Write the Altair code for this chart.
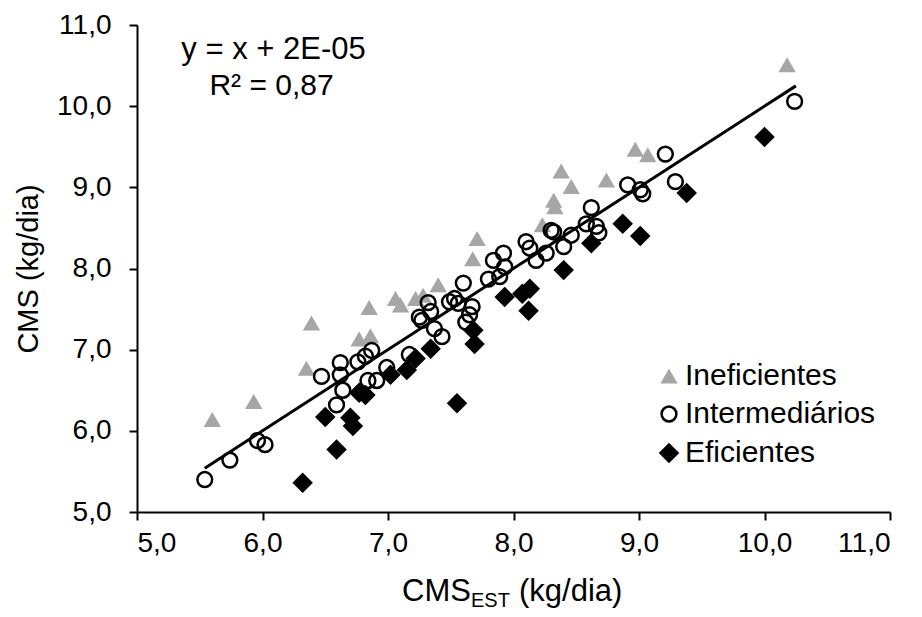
import altair as alt
import pandas as pd

# ---- data ----
inef_x = [5.60, 5.93, 6.35, 6.39, 6.77, 6.85, 6.86, 7.06, 7.10, 7.22, 7.28, 7.40,
          7.675, 7.71, 8.23, 8.32, 8.33, 8.38, 8.46, 8.74, 8.97, 9.07, 10.18]
inef_y = [6.14, 6.36, 6.77, 7.33, 7.13, 7.52, 7.17, 7.63, 7.55, 7.63, 7.67, 7.80,
          8.12, 8.37, 8.54, 8.84, 8.76, 9.20, 9.01, 9.09, 9.47, 9.40, 10.51]

inter_x = [5.54, 5.74, 5.96, 6.02, 6.47, 6.59, 6.62, 6.62, 6.64, 6.76, 6.82, 6.84,
           6.87, 6.91, 6.99, 7.17, 7.25, 7.27, 7.32, 7.34, 7.37, 7.43, 7.49, 7.53,
           7.56, 7.60, 7.62, 7.65, 7.67, 7.80, 7.84, 7.89, 7.92, 7.93, 8.10, 8.13,
           8.18, 8.26, 8.30, 8.32, 8.40, 8.46, 8.58, 8.62, 8.66, 8.68, 8.91, 9.01,
           9.03, 9.21, 9.29, 10.24]
inter_y = [5.40, 5.64, 5.88, 5.83, 6.67, 6.32, 6.69, 6.84, 6.50, 6.85, 6.92, 6.62,
           6.99, 6.62, 6.78, 6.94, 7.40, 7.36, 7.58, 7.47, 7.26, 7.16, 7.59, 7.63,
           7.57, 7.82, 7.34, 7.43, 7.53, 7.87, 8.10, 7.90, 8.19, 8.02, 8.33, 8.25,
           8.10, 8.19, 8.47, 8.45, 8.27, 8.41, 8.55, 8.75, 8.52, 8.44, 9.03, 8.97,
           8.92, 9.41, 9.07, 10.06]

efic_x = [6.32, 6.50, 6.59, 6.70, 6.72, 6.77, 6.82, 7.02, 7.15, 7.22, 7.34, 7.55,
          7.68, 7.69, 7.93, 8.07, 8.12, 8.13, 8.40, 8.62, 8.87, 9.01, 9.38, 10.00]
efic_y = [5.36, 6.17, 5.77, 6.16, 6.06, 6.47, 6.44, 6.69, 6.75, 6.89, 7.01, 6.34,
          7.24, 7.07, 7.65, 7.69, 7.48, 7.75, 7.98, 8.31, 8.55, 8.40, 8.93, 9.62]

groups = ["Ineficientes", "Intermediários", "Eficientes"]
trend_x = [5.54, 10.25]          # extent of the Excel trendline
trend_slope = 1.0
trend_intercept = 0.00002
axis_ticks = [5, 6, 7, 8, 9, 10, 11]

rows = []
for g, xs, ys in zip(groups, [inef_x, inter_x, efic_x], [inef_y, inter_y, efic_y]):
    for a, b in zip(xs, ys):
        rows.append({"grupo": g, "est": a, "cms": b})
df = pd.DataFrame(rows)
df_line = pd.DataFrame({"est": trend_x})

FONT = "Liberation Sans"
label_expr = "replace(format(datum.value, '.1f'), '.', ',')"

xscale = alt.Scale(domain=[5, 11], nice=False, zero=False)
yscale = alt.Scale(domain=[5, 11], nice=False, zero=False)

xaxis = alt.Axis(values=axis_ticks, labelExpr=label_expr, title=None, grid=False,
                 domainColor="black", domainWidth=2, tickColor="black", tickWidth=2,
                 tickSize=8, labelFontSize=28, labelColor="black", labelPadding=9,
                 labelFont=FONT)
yaxis = alt.Axis(values=axis_ticks, labelExpr=label_expr, title="CMS (kg/dia)", grid=False,
                 domainColor="black", domainWidth=2, tickColor="black", tickWidth=2,
                 tickSize=8, labelFontSize=28, labelColor="black", labelPadding=18,
                 labelFont=FONT, titleFontSize=29, titleFont=FONT, titleColor="black",
                 titleFontWeight="normal", titleX=-109, titleY=243.5, titleAngle=270,
                 titleBaseline="middle", titleAlign="center")


def leg():
    return alt.Legend(title=None, orient="none", legendX=517, legendY=336,
                      labelFontSize=30, labelFont=FONT, labelColor="black",
                      labelLimit=400, symbolStrokeWidth=2.5, rowPadding=8,
                      labelOffset=1)


points = alt.Chart(df).mark_point(strokeWidth=2.5, opacity=1).encode(
    x=alt.X("est:Q", scale=xscale, axis=xaxis),
    y=alt.Y("cms:Q", scale=yscale, axis=yaxis),
    shape=alt.Shape("grupo:N", scale=alt.Scale(domain=groups,
                    range=["triangle-up", "circle", "diamond"]), legend=leg()),
    fill=alt.Fill("grupo:N", scale=alt.Scale(domain=groups,
                  range=["#A6A6A6", "transparent", "black"]), legend=leg()),
    stroke=alt.Stroke("grupo:N", scale=alt.Scale(domain=groups,
                      range=["transparent", "black", "transparent"]), legend=leg()),
    size=alt.Size("grupo:N", scale=alt.Scale(type="ordinal", domain=groups,
                  range=[300, 220, 420]), legend=leg()),
)

line = alt.Chart(df_line).transform_calculate(
    cms=f"datum.est * {trend_slope} + {trend_intercept}"
).mark_line(color="black", strokeWidth=3).encode(
    x=alt.X("est:Q", scale=xscale),
    y=alt.Y("cms:Q", scale=yscale),
)


def txt(s, x, y, size=28, align="center", baseline="middle"):
    return alt.Chart(pd.DataFrame({"t": [s]})).mark_text(
        font=FONT, fontSize=size, color="black", align=align, baseline=baseline
    ).encode(text="t:N", x=alt.value(x), y=alt.value(y))


eq1 = txt("y = x + 2E-05", 136.5, 25, size=31)
eq2 = txt("R² = 0,87", 134.5, 61, size=30)
t_cms = txt("CMS", 265, 576, size=31, align="left", baseline="alphabetic")
t_est = txt("EST", 334, 582, size=20, align="left", baseline="alphabetic")
t_rest = txt("(kg/dia)", 382, 576, size=31, align="left", baseline="alphabetic")

chart = alt.layer(points, line, eq1, eq2, t_cms, t_est, t_rest).properties(
    width=753, height=487,
    padding={"left": 129, "top": 17, "right": 24, "bottom": 102},
    autosize=alt.AutoSizeParams(type="none"),
).configure(font=FONT).configure_view(stroke=None)

chart.save("out.html", embed_options={"renderer": "svg", "actions": False})
